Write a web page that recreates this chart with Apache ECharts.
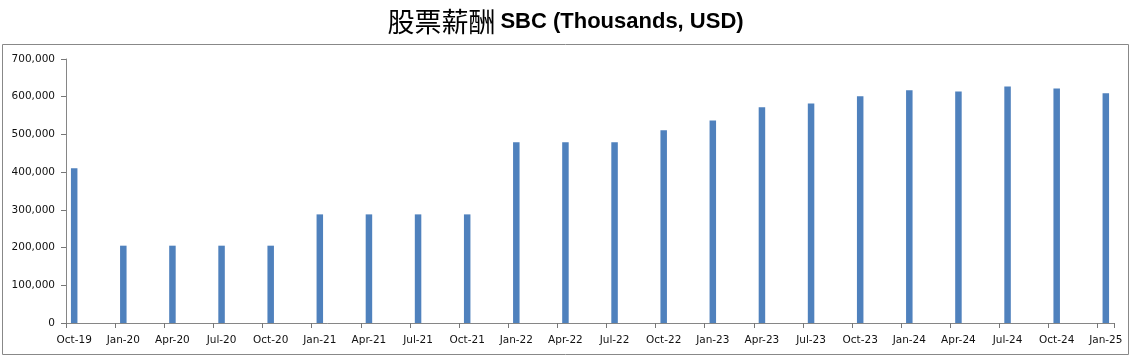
<!DOCTYPE html>
<html>
<head>
<meta charset="utf-8">
<script src="https://cdn.jsdelivr.net/npm/echarts@6/dist/echarts.min.js"></script>
<style>html,body{margin:0;padding:0;background:#fff}#c{width:1131px;height:361px}</style>
</head>
<body>
<div id="c"></div>
<script>
const quarterLabels = ['Oct-19','Jan-20','Apr-20','Jul-20','Oct-20','Jan-21','Apr-21','Jul-21','Oct-21','Jan-22','Apr-22','Jul-22','Oct-22','Jan-23','Apr-23','Jul-23','Oct-23','Jan-24','Apr-24','Jul-24','Oct-24','Jan-25'];
const sbcValues = [410000,205000,205000,205000,205000,288000,288000,288000,288000,479000,479000,479000,511000,537000,572000,582000,601000,617000,614000,627000,622000,609000];
const yTicks = [0,100000,200000,300000,400000,500000,600000,700000];

// Monthly date axis: each quarter value sits in its month slot; the two months between are empty
const months = [];
const monthValues = [];
quarterLabels.forEach((q, i) => {
  months.push(q);
  monthValues.push(sbcValues[i]);
  if (i < quarterLabels.length - 1) {
    months.push(q + '_m1'); monthValues.push(null);
    months.push(q + '_m2'); monthValues.push(null);
  }
});

const chart = echarts.init(document.getElementById('c'));
chart.setOption({
  animation: false,
  title: {
    text: '{zh|股票薪酬} {en|SBC (Thousands, USD)}',
    left: 'center',
    top: 3,
    textStyle: {
      rich: {
        zh: { fontFamily: 'Noto Sans CJK TC', fontSize: 27, fontWeight: 'normal', color: '#000' },
        en: { fontFamily: 'Liberation Sans', fontSize: 22, fontWeight: 'bold', color: '#000' }
      }
    }
  },
  graphic: [{
    type: 'rect',
    shape: { x: 2.5, y: 44.5, width: 1126, height: 310 },
    style: { fill: 'none', stroke: '#888', lineWidth: 1 },
    silent: true
  }],
  grid: { left: 66, right: 17, top: 59, bottom: 38, containLabel: false },
  xAxis: {
    type: 'category',
    data: months,
    boundaryGap: true,
    axisLine: { lineStyle: { color: '#868686', width: 1 } },
    axisTick: { show: true, interval: 2, alignWithLabel: false, length: 5, lineStyle: { color: '#777', width: 1 } },
    axisLabel: {
      interval: 2,
      margin: 12,
      fontFamily: 'DejaVu Sans',
      fontSize: 10.5,
      color: '#111',
      formatter: (v) => v.indexOf('_') >= 0 ? '' : v
    },
    splitLine: { show: false }
  },
  yAxis: {
    type: 'value',
    min: 0,
    max: 700000,
    interval: 100000,
    axisLine: { show: true, lineStyle: { color: '#868686', width: 1 } },
    axisTick: { show: true, length: 5, lineStyle: { color: '#777' } },
    axisLabel: {
      margin: 11,
      fontFamily: 'DejaVu Sans',
      fontSize: 10.5,
      color: '#111',
      formatter: (v) => v.toLocaleString('en-US')
    },
    splitLine: { show: false }
  },
  series: [{
    type: 'bar',
    data: monthValues,
    barWidth: 6.5,
    itemStyle: { color: '#4f81bd' }
  }]
});
</script>
</body>
</html>
